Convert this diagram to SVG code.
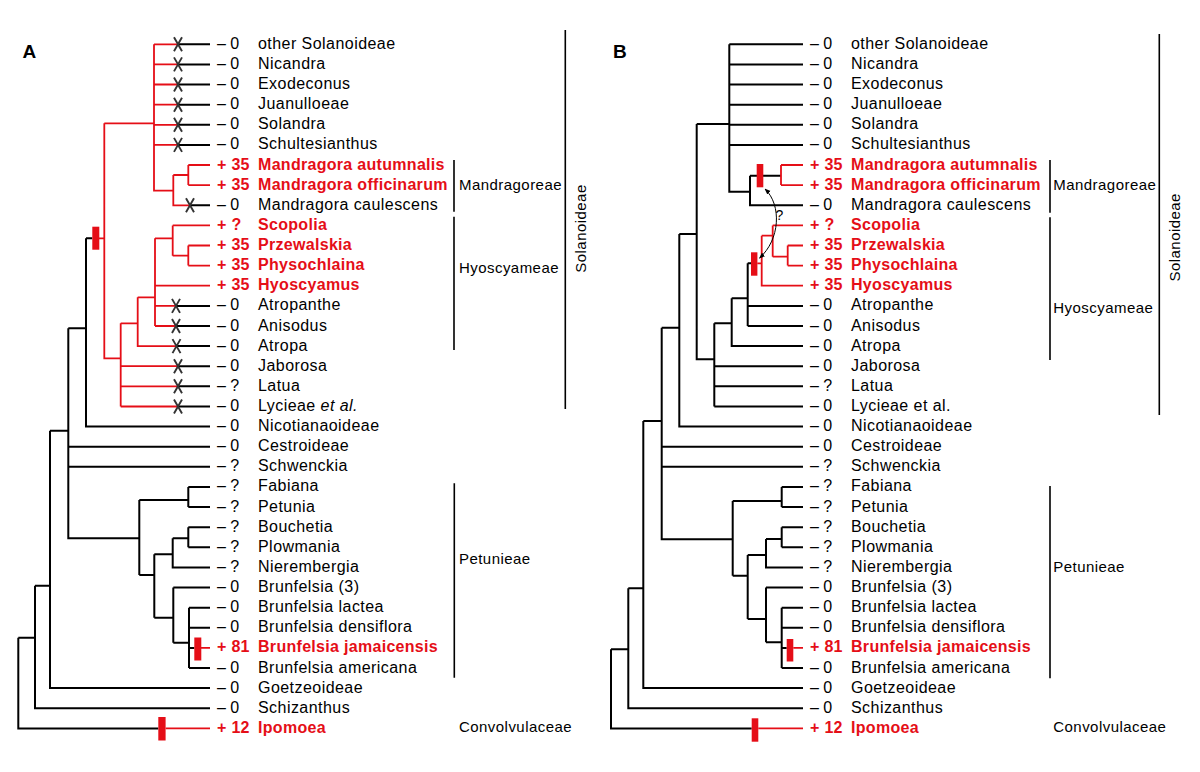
<svg xmlns="http://www.w3.org/2000/svg" width="1200" height="772" viewBox="0 0 1200 772">
<style>
text{font-family:"Liberation Sans",Arial,sans-serif;fill:#000}
.n{font-size:16px;letter-spacing:0.45px}
.s{font-size:16px}
.r{fill:#e50e17;font-weight:bold;letter-spacing:0.3px}
.g{font-size:15px;letter-spacing:0.45px}
.p{font-size:19px;font-weight:bold}
.k{fill:none;stroke:#000;stroke-width:2}
.e{fill:none;stroke:#e50e17;stroke-width:1.8}
.bar{fill:#e50e17}
.x{fill:none;stroke:#333;stroke-width:1.9}
.br{stroke:#000;stroke-width:1.6}
</style>
<defs>
<path id="xm" class="x" d="M-4,-7 L4,7 M4,-7 L-4,7"/>
<marker id="ah" viewBox="0 0 10 10" refX="9" refY="5" markerWidth="6" markerHeight="6" orient="auto-start-reverse"><path d="M0,1 L10,5 L0,9 z" fill="#000"/></marker>
</defs>
<rect width="1200" height="772" fill="#fff"/>
<text class="p" x="22.5" y="58.3">A</text>
<text class="p" x="613" y="58.3">B</text>
<g id="connectors">
<g id="treeA">
<path class="k" d="M18.3,637.7 V728.4 H158.3 M18.3,637.7 H35 M35,585.7 V708.2 H210 M35,585.7 H50 M50,430.7 V688.1 H210 M50,430.7 H68.3 M68.3,328.3 V538.3 H139.3 M68.3,446.7 H210 M68.3,466.8 H210 M68.3,328.3 H86 M86,238.3 V426.6 H210 M86,238.3 H92.3"/>
<path class="k" d="M139.3,500 V575 M139.3,500 H188.3 M188.3,486.9 V507.1 M188.3,486.9 H210 M188.3,507.1 H210 M139.3,575 H154.3 M154.3,554.3 V617.7 M154.3,554.3 H172.7 M172.7,538.3 V567.4 H210 M172.7,538.3 H188.3 M188.3,527.2 V547.3 M188.3,527.2 H210 M188.3,547.3 H210 M154.3,617.7 H173.3 M173.3,587.5 V642.7 M173.3,587.5 H210 M173.3,642.7 H189 M189,607.7 V668 M189,607.7 H210 M189,627.8 H210 M189,668 H210 M189,647.9 H194.3"/>
<path class="k" d="M178,44.3 H210 M178,64.4 H210 M178,84.5 H210 M178,104.7 H210 M178,124.8 H210 M178,144.9 H210 M190,205.3 H210 M176,305.9 H210 M176,326 H210 M176,346.1 H210 M178,366.2 H210 M178,386.3 H210 M178,406.5 H210"/>
<path class="e" d="M165.6,728.4 H210 M201,647.9 H210 M99,238.3 H104.3 M104.3,123.3 V358.3 H120.7 M104.3,123.3 H154 M154,44.3 V190.7 H173.3 M154,44.3 H178 M154,64.4 H178 M154,84.5 H178 M154,104.7 H178 M154,124.8 H178 M154,144.9 H178 M173.3,175 V205.3 H190 M173.3,175 H188.3 M188.3,165 V185.1 M188.3,165 H210 M188.3,185.1 H210"/>
<path class="e" d="M120.7,323.3 V406.5 M120.7,366.2 H178 M120.7,386.3 H178 M120.7,406.5 H178 M120.7,323.3 H137.7 M137.7,297.3 V346.1 H176 M137.7,297.3 H155 M155,238.3 V326 M155,305.9 H176 M155,326 H176 M155,285.7 H210 M155,238.3 H172.7 M172.7,225.4 V255.7 M172.7,225.4 H210 M172.7,255.7 H188.3 M188.3,245.5 V265.6 M188.3,245.5 H210 M188.3,265.6 H210"/>
<rect class="bar" x="92.3" y="226.7" width="7" height="23"/>
<rect class="bar" x="194.3" y="637.5" width="7" height="23"/>
<rect class="bar" x="158.3" y="717" width="7.3" height="23.5"/>
<use href="#xm" x="178" y="44.3"/><use href="#xm" x="178" y="64.4"/><use href="#xm" x="178" y="84.5"/><use href="#xm" x="178" y="104.7"/><use href="#xm" x="178" y="124.8"/><use href="#xm" x="178" y="144.9"/><use href="#xm" x="190" y="205.3"/><use href="#xm" x="176" y="305.9"/><use href="#xm" x="176" y="326"/><use href="#xm" x="176.5" y="346.1"/><use href="#xm" x="178" y="366.2"/><use href="#xm" x="178" y="386.3"/><use href="#xm" x="178" y="406.5"/>
</g>
<g id="treeB">
<path class="k" d="M611,649.3 V728.4 H751.7 M611,649.3 H628.3 M628.3,588.3 V708.2 H803 M628.3,588.3 H643.3 M643.3,421 V688.1 H803 M643.3,421 H661.7 M661.7,327.7 V539.3 H732.7 M661.7,446.7 H803 M661.7,466.8 H803 M661.7,327.7 H679.3 M679.3,234 V426.6 H803 M679.3,234 H696.7 M696.7,124 V359.3 H714.3 M696.7,124 H729.3 M729.3,44.3 V191.7 H750 M729.3,44.3 H803 M729.3,64.4 H803 M729.3,84.5 H803 M729.3,104.7 H803 M729.3,124.8 H803 M729.3,144.9 H803 M750,175.7 V205.3 H803 M750,175.7 H781"/>
<path class="k" d="M714.3,323.3 V406.5 M714.3,366.2 H803 M714.3,386.3 H803 M714.3,406.5 H803 M714.3,323.3 H731.7 M731.7,298.3 V346.1 H803 M731.7,298.3 H747.7 M747.7,263.3 V326 M747.7,305.9 H803 M747.7,326 H803 M747.7,263.3 H751"/>
<path class="k" d="M732.7,501 V575.7 M732.7,501 H781.7 M781.7,486.9 V507.1 M781.7,486.9 H803 M781.7,507.1 H803 M732.7,575.7 H747.7 M747.7,555 V619 M747.7,555 H766 M766,539 V567.4 H803 M766,539 H781.7 M781.7,527.2 V547.3 M781.7,527.2 H803 M781.7,547.3 H803 M747.7,619 H766 M766,587.5 V642.3 M766,587.5 H803 M766,642.3 H781.7 M781.7,607.7 V668 M781.7,607.7 H803 M781.7,627.8 H803 M781.7,668 H803 M781.7,647.9 H786.7"/>
<path class="e" d="M758.3,728.4 H803 M793.3,647.9 H803 M781,165 V185.1 M781,165 H803 M781,185.1 H803 M757.3,263.3 H761.7 M761.7,235.7 V285.7 H803 M761.7,235.7 H772.7 M772.7,225.4 V256.7 M772.7,225.4 H803 M772.7,256.7 H787.7 M787.7,245.5 V265.6 M787.7,245.5 H803 M787.7,265.6 H803"/>
<rect class="bar" x="756.7" y="164" width="6.6" height="23.3"/>
<rect class="bar" x="751" y="252.3" width="6.4" height="23.4"/>
<rect class="bar" x="786.7" y="639" width="6.6" height="22.5"/>
<rect class="bar" x="751.7" y="718.3" width="6.6" height="23.4"/>
<path d="M765,189 C782,205 780,240 759.5,258" fill="none" stroke="#000" stroke-width="1" marker-start="url(#ah)" marker-end="url(#ah)"/>
<text x="775.5" y="220" style="font-size:14px">?</text>
</g>
</g>
<g id="brackets">
<path class="br" d="M454,160 V211.7 M454,216.7 V350 M565.3,30 V409 M454.3,483.3 V677.7 M1050,160 V212.7 M1050,217.3 V360 M1159.3,34 V415 M1050,486 V678.3"/>
<text class="g" x="459" y="190">Mandragoreae</text>
<text class="g" x="459" y="273">Hyoscyameae</text>
<text class="g" x="459" y="564">Petunieae</text>
<text class="g" x="459" y="731.7">Convolvulaceae</text>
<text class="g" transform="translate(585.5,228.5) rotate(-90)" text-anchor="middle">Solanoideae</text>
<text class="g" x="1053.3" y="190">Mandragoreae</text>
<text class="g" x="1053.3" y="313.3">Hyoscyameae</text>
<text class="g" x="1053.3" y="571.7">Petunieae</text>
<text class="g" x="1053.3" y="731.7">Convolvulaceae</text>
<text class="g" transform="translate(1180,237.3) rotate(-90)" text-anchor="middle">Solanoideae</text>
</g>
<g id="tipsA">
<g id="a00"><text class="s" x="217" y="48.8">– 0</text><text class="n" x="258" y="48.8">other Solanoideae</text></g>
<g id="a01"><text class="s" x="217" y="68.9">– 0</text><text class="n" x="258" y="68.9">Nicandra</text></g>
<g id="a02"><text class="s" x="217" y="89">– 0</text><text class="n" x="258" y="89">Exodeconus</text></g>
<g id="a03"><text class="s" x="217" y="109.2">– 0</text><text class="n" x="258" y="109.2">Juanulloeae</text></g>
<g id="a04"><text class="s" x="217" y="129.3">– 0</text><text class="n" x="258" y="129.3">Solandra</text></g>
<g id="a05"><text class="s" x="217" y="149.4">– 0</text><text class="n" x="258" y="149.4">Schultesianthus</text></g>
<g id="a06"><text class="s r" x="217" y="169.5">+ 35</text><text class="n r" x="258" y="169.5">Mandragora autumnalis</text></g>
<g id="a07"><text class="s r" x="217" y="189.6">+ 35</text><text class="n r" x="258" y="189.6">Mandragora officinarum</text></g>
<g id="a08"><text class="s" x="217" y="209.8">– 0</text><text class="n" x="258" y="209.8">Mandragora caulescens</text></g>
<g id="a09"><text class="s r" x="217" y="229.9">+ ?</text><text class="n r" x="258" y="229.9">Scopolia</text></g>
<g id="a10"><text class="s r" x="217" y="250">+ 35</text><text class="n r" x="258" y="250">Przewalskia</text></g>
<g id="a11"><text class="s r" x="217" y="270.1">+ 35</text><text class="n r" x="258" y="270.1">Physochlaina</text></g>
<g id="a12"><text class="s r" x="217" y="290.2">+ 35</text><text class="n r" x="258" y="290.2">Hyoscyamus</text></g>
<g id="a13"><text class="s" x="217" y="310.4">– 0</text><text class="n" x="258" y="310.4">Atropanthe</text></g>
<g id="a14"><text class="s" x="217" y="330.5">– 0</text><text class="n" x="258" y="330.5">Anisodus</text></g>
<g id="a15"><text class="s" x="217" y="350.6">– 0</text><text class="n" x="258" y="350.6">Atropa</text></g>
<g id="a16"><text class="s" x="217" y="370.7">– 0</text><text class="n" x="258" y="370.7">Jaborosa</text></g>
<g id="a17"><text class="s" x="217" y="390.8">– ?</text><text class="n" x="258" y="390.8">Latua</text></g>
<g id="a18"><text class="s" x="217" y="411">– 0</text><text class="n" x="258" y="411">Lycieae <tspan font-style="italic">et al.</tspan></text></g>
<g id="a19"><text class="s" x="217" y="431.1">– 0</text><text class="n" x="258" y="431.1">Nicotianaoideae</text></g>
<g id="a20"><text class="s" x="217" y="451.2">– 0</text><text class="n" x="258" y="451.2">Cestroideae</text></g>
<g id="a21"><text class="s" x="217" y="471.3">– ?</text><text class="n" x="258" y="471.3">Schwenckia</text></g>
<g id="a22"><text class="s" x="217" y="491.4">– ?</text><text class="n" x="258" y="491.4">Fabiana</text></g>
<g id="a23"><text class="s" x="217" y="511.6">– ?</text><text class="n" x="258" y="511.6">Petunia</text></g>
<g id="a24"><text class="s" x="217" y="531.7">– ?</text><text class="n" x="258" y="531.7">Bouchetia</text></g>
<g id="a25"><text class="s" x="217" y="551.8">– ?</text><text class="n" x="258" y="551.8">Plowmania</text></g>
<g id="a26"><text class="s" x="217" y="571.9">– ?</text><text class="n" x="258" y="571.9">Nierembergia</text></g>
<g id="a27"><text class="s" x="217" y="592">– 0</text><text class="n" x="258" y="592">Brunfelsia (3)</text></g>
<g id="a28"><text class="s" x="217" y="612.2">– 0</text><text class="n" x="258" y="612.2">Brunfelsia lactea</text></g>
<g id="a29"><text class="s" x="217" y="632.3">– 0</text><text class="n" x="258" y="632.3">Brunfelsia densiflora</text></g>
<g id="a30"><text class="s r" x="217" y="652.4">+ 81</text><text class="n r" x="258" y="652.4">Brunfelsia jamaicensis</text></g>
<g id="a31"><text class="s" x="217" y="672.5">– 0</text><text class="n" x="258" y="672.5">Brunfelsia americana</text></g>
<g id="a32"><text class="s" x="217" y="692.6">– 0</text><text class="n" x="258" y="692.6">Goetzeoideae</text></g>
<g id="a33"><text class="s" x="217" y="712.7">– 0</text><text class="n" x="258" y="712.7">Schizanthus</text></g>
<g id="a34"><text class="s r" x="217" y="732.9">+ 12</text><text class="n r" x="258" y="732.9">Ipomoea</text></g>
</g>
<g id="tipsB">
<g id="b00"><text class="s" x="810" y="48.8">– 0</text><text class="n" x="851" y="48.8">other Solanoideae</text></g>
<g id="b01"><text class="s" x="810" y="68.9">– 0</text><text class="n" x="851" y="68.9">Nicandra</text></g>
<g id="b02"><text class="s" x="810" y="89">– 0</text><text class="n" x="851" y="89">Exodeconus</text></g>
<g id="b03"><text class="s" x="810" y="109.2">– 0</text><text class="n" x="851" y="109.2">Juanulloeae</text></g>
<g id="b04"><text class="s" x="810" y="129.3">– 0</text><text class="n" x="851" y="129.3">Solandra</text></g>
<g id="b05"><text class="s" x="810" y="149.4">– 0</text><text class="n" x="851" y="149.4">Schultesianthus</text></g>
<g id="b06"><text class="s r" x="810" y="169.5">+ 35</text><text class="n r" x="851" y="169.5">Mandragora autumnalis</text></g>
<g id="b07"><text class="s r" x="810" y="189.6">+ 35</text><text class="n r" x="851" y="189.6">Mandragora officinarum</text></g>
<g id="b08"><text class="s" x="810" y="209.8">– 0</text><text class="n" x="851" y="209.8">Mandragora caulescens</text></g>
<g id="b09"><text class="s r" x="810" y="229.9">+ ?</text><text class="n r" x="851" y="229.9">Scopolia</text></g>
<g id="b10"><text class="s r" x="810" y="250">+ 35</text><text class="n r" x="851" y="250">Przewalskia</text></g>
<g id="b11"><text class="s r" x="810" y="270.1">+ 35</text><text class="n r" x="851" y="270.1">Physochlaina</text></g>
<g id="b12"><text class="s r" x="810" y="290.2">+ 35</text><text class="n r" x="851" y="290.2">Hyoscyamus</text></g>
<g id="b13"><text class="s" x="810" y="310.4">– 0</text><text class="n" x="851" y="310.4">Atropanthe</text></g>
<g id="b14"><text class="s" x="810" y="330.5">– 0</text><text class="n" x="851" y="330.5">Anisodus</text></g>
<g id="b15"><text class="s" x="810" y="350.6">– 0</text><text class="n" x="851" y="350.6">Atropa</text></g>
<g id="b16"><text class="s" x="810" y="370.7">– 0</text><text class="n" x="851" y="370.7">Jaborosa</text></g>
<g id="b17"><text class="s" x="810" y="390.8">– ?</text><text class="n" x="851" y="390.8">Latua</text></g>
<g id="b18"><text class="s" x="810" y="411">– 0</text><text class="n" x="851" y="411">Lycieae et al.</text></g>
<g id="b19"><text class="s" x="810" y="431.1">– 0</text><text class="n" x="851" y="431.1">Nicotianaoideae</text></g>
<g id="b20"><text class="s" x="810" y="451.2">– 0</text><text class="n" x="851" y="451.2">Cestroideae</text></g>
<g id="b21"><text class="s" x="810" y="471.3">– ?</text><text class="n" x="851" y="471.3">Schwenckia</text></g>
<g id="b22"><text class="s" x="810" y="491.4">– ?</text><text class="n" x="851" y="491.4">Fabiana</text></g>
<g id="b23"><text class="s" x="810" y="511.6">– ?</text><text class="n" x="851" y="511.6">Petunia</text></g>
<g id="b24"><text class="s" x="810" y="531.7">– ?</text><text class="n" x="851" y="531.7">Bouchetia</text></g>
<g id="b25"><text class="s" x="810" y="551.8">– ?</text><text class="n" x="851" y="551.8">Plowmania</text></g>
<g id="b26"><text class="s" x="810" y="571.9">– ?</text><text class="n" x="851" y="571.9">Nierembergia</text></g>
<g id="b27"><text class="s" x="810" y="592">– 0</text><text class="n" x="851" y="592">Brunfelsia (3)</text></g>
<g id="b28"><text class="s" x="810" y="612.2">– 0</text><text class="n" x="851" y="612.2">Brunfelsia lactea</text></g>
<g id="b29"><text class="s" x="810" y="632.3">– 0</text><text class="n" x="851" y="632.3">Brunfelsia densiflora</text></g>
<g id="b30"><text class="s r" x="810" y="652.4">+ 81</text><text class="n r" x="851" y="652.4">Brunfelsia jamaicensis</text></g>
<g id="b31"><text class="s" x="810" y="672.5">– 0</text><text class="n" x="851" y="672.5">Brunfelsia americana</text></g>
<g id="b32"><text class="s" x="810" y="692.6">– 0</text><text class="n" x="851" y="692.6">Goetzeoideae</text></g>
<g id="b33"><text class="s" x="810" y="712.7">– 0</text><text class="n" x="851" y="712.7">Schizanthus</text></g>
<g id="b34"><text class="s r" x="810" y="732.9">+ 12</text><text class="n r" x="851" y="732.9">Ipomoea</text></g>
</g>
</svg>
